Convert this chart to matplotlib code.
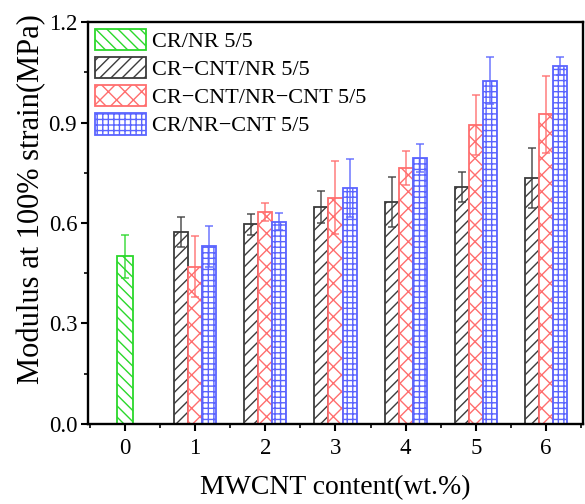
import matplotlib
matplotlib.use("Agg")
import matplotlib.pyplot as plt
import numpy as np
from matplotlib.ticker import MultipleLocator

plt.rcParams['font.family'] = ['Liberation Serif', 'DejaVu Serif']
plt.rcParams['hatch.linewidth'] = 1.0

contents = [0, 1, 2, 3, 4, 5, 6]
labels = ["CR/NR 5/5", "CR\u2212CNT/NR 5/5", "CR\u2212CNT/NR\u2212CNT 5/5", "CR/NR\u2212CNT 5/5"]

crnr_val = [0.50]
crnr_err = [0.065]
crcnt_nr_val = [0.574, 0.596, 0.647, 0.662, 0.708, 0.735]
crcnt_nr_err = [0.045, 0.032, 0.048, 0.074, 0.044, 0.090]
crcnt_nrcnt_val = [0.470, 0.633, 0.676, 0.764, 0.893, 0.925]
crcnt_nrcnt_err = [0.090, 0.026, 0.110, 0.050, 0.090, 0.115]
crnr_cnt_val = [0.530, 0.604, 0.705, 0.794, 1.025, 1.069]
crnr_cnt_err = [0.060, 0.025, 0.087, 0.042, 0.070, 0.027]

fig = plt.figure(figsize=(5.85, 5.04), dpi=100)
ax = fig.add_axes([0.151, 0.159, 0.845, 0.797])

w = 0.2
x0 = np.array(contents[:1], dtype=float)
x1 = np.array(contents[1:], dtype=float)

green = '#2bd82b'
black = '#3c3c3c'
red = '#ff6e6e'
blue = '#5a64ff'

def draw(x, vals, errs, color, hatch, label, width=w):
    plt.rcParams['hatch.color'] = color
    ax.bar(x, vals, width=width, facecolor='white', edgecolor=color, hatch=hatch,
           linewidth=1.3, label=label, zorder=2)
    ax.errorbar(x, vals, yerr=errs, fmt='none', ecolor=color, elinewidth=1.3,
                capsize=3.2, capthick=1.3, alpha=0.75, zorder=3)

draw(x0, crnr_val, crnr_err, green, '\\\\\\', labels[0], width=0.22)
draw(x1 - w, crcnt_nr_val, crcnt_nr_err, black, '///', labels[1])
draw(x1, crcnt_nrcnt_val, crcnt_nrcnt_err, red, 'xx', labels[2])
draw(x1 + w, crnr_cnt_val, crnr_cnt_err, blue, '+++', labels[3])

ax.set_xlim(-0.52, 6.52)
ax.set_ylim(0, 1.2)
ax.set_xticks(contents)
ax.xaxis.set_minor_locator(MultipleLocator(0.5))
ax.yaxis.set_major_locator(MultipleLocator(0.3))
ax.yaxis.set_minor_locator(MultipleLocator(0.15))
ax.yaxis.set_major_formatter(matplotlib.ticker.FormatStrFormatter('%.1f'))
ax.tick_params(axis='both', which='major', direction='out', length=5, width=1.5,
               labelsize=16.5, top=False, right=False)
ax.tick_params(axis='both', which='minor', direction='out', length=3, width=1.2)
ax.tick_params(axis='x', which='major', pad=5)
ax.tick_params(axis='y', which='major', pad=3)
for s in ax.spines.values():
    s.set_linewidth(1.7)

ax.set_xlabel('MWCNT content(wt.%)', fontsize=20, labelpad=12)
ax.set_ylabel('Modulus at 100% strain(MPa)', fontsize=22, labelpad=2)
ax.yaxis.label.set_y(0.56)

ax.legend(loc='upper left', frameon=False, fontsize=16, handlelength=2.3,
          handleheight=1.1, borderaxespad=0.15, labelspacing=0.22, handletextpad=0.25,
          borderpad=0.15)

fig.savefig('out.png', dpi=100)
